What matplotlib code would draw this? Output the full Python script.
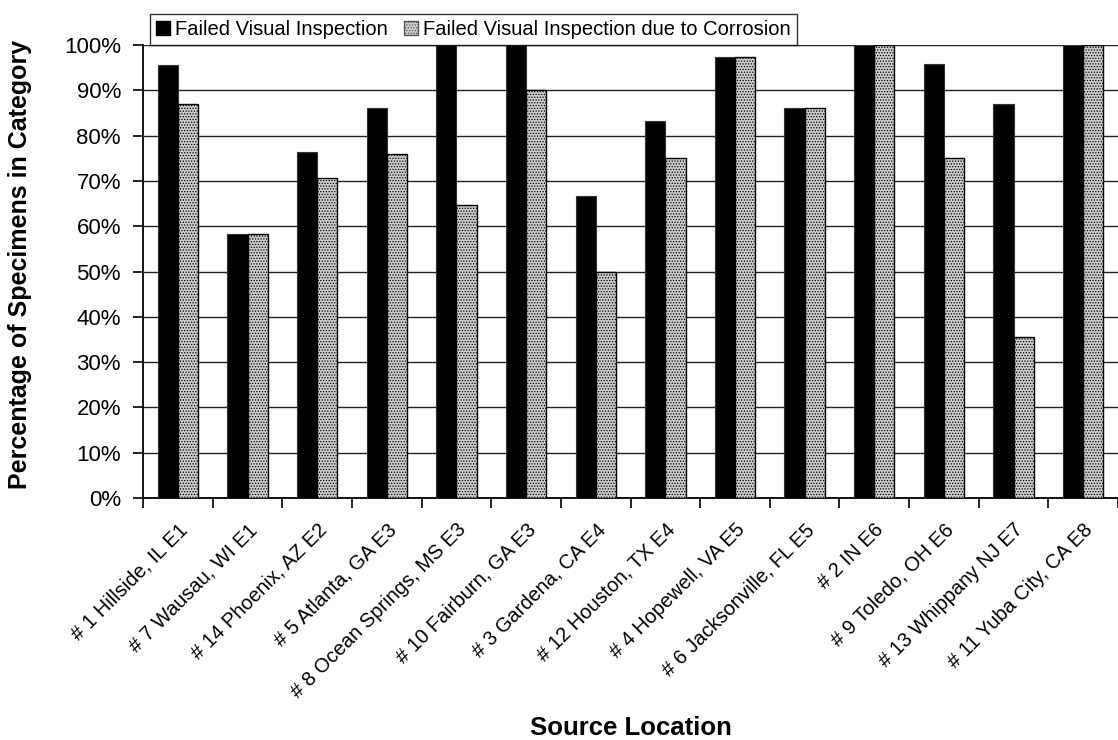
import numpy as np
import matplotlib.pyplot as plt
from matplotlib.patches import Patch

locations = [
    "# 1 Hillside, IL E1", "# 7 Wausau, WI E1", "# 14 Phoenix, AZ E2",
    "# 5 Atlanta, GA E3", "# 8 Ocean Springs, MS E3", "# 10 Fairburn, GA E3",
    "# 3 Gardena, CA E4", "# 12 Houston, TX E4", "# 4 Hopewell, VA E5",
    "# 6 Jacksonville, FL E5", "# 2 IN E6", "# 9 Toledo, OH E6",
    "# 13 Whippany NJ E7", "# 11 Yuba City, CA E8",
]
failed_visual = [95.7, 58.3, 76.5, 86.2, 100, 100, 66.7, 83.3, 97.4, 86.1, 100, 95.8, 87.1, 100]
failed_corrosion = [87.0, 58.3, 70.6, 75.9, 64.7, 90.0, 50.0, 75.0, 97.4, 86.1, 100, 75.0, 35.5, 100]

plt.rcParams["font.family"] = ["Liberation Sans", "DejaVu Sans"]
plt.rcParams["hatch.color"] = "#b0b0b0"
plt.rcParams["hatch.linewidth"] = 0.6

fig = plt.figure(figsize=(11.18, 7.4), dpi=100)
ax = fig.add_axes([0.128, 0.327, 0.872, 0.612])

n = len(locations)
x = np.arange(n)
w = 0.29
GRAY = "#cccccc"

ax.bar(x - w / 2, failed_visual, w, color="black", edgecolor="#333333",
       linewidth=0.8, zorder=3, label="Failed Visual Inspection")
ax.bar(x + w / 2, failed_corrosion, w, color=GRAY, edgecolor="black",
       linewidth=1.0, zorder=3, hatch="......",
       label="Failed Visual Inspection due to Corrosion")

ax.set_xlim(-0.5, n - 0.5)
ax.set_ylim(0, 100)
ax.set_yticks(range(0, 101, 10))
ax.set_yticklabels([f"{v}%" for v in range(0, 101, 10)], fontsize=16)
ax.tick_params(axis="y", length=7, width=1.2, direction="out", pad=9)

# ticks at category boundaries, labels at centres
ax.set_xticks(np.arange(n + 1) - 0.5)
ax.set_xticklabels([])
ax.tick_params(axis="x", which="major", length=7, width=1.2, direction="out")
ax.set_xticks(x, minor=True)
ax.set_xticklabels(locations, minor=True, rotation=45, ha="right",
                   rotation_mode="anchor", fontsize=14.5)
ax.tick_params(axis="x", which="minor", length=0, pad=16)

ax.grid(axis="y", color="#222222", linewidth=1.0, zorder=0)
ax.spines["top"].set_visible(False)
ax.spines["right"].set_visible(False)
ax.spines["left"].set_linewidth(1.3)
ax.spines["bottom"].set_linewidth(1.3)
ax.axhline(100, color="#888888", linewidth=1.5, zorder=1)

ax.set_ylabel("Percentage of Specimens in Category", fontsize=18,
              fontweight="bold")
ax.yaxis.set_label_coords(-0.114, 0.515)
ax.set_xlabel("Source Location", fontsize=18.5, fontweight="bold")
ax.xaxis.set_label_coords(0.5, -0.482)

handles = [Patch(facecolor="black", edgecolor="black"),
           Patch(facecolor=GRAY, edgecolor="#555555", hatch="......")]
leg = ax.legend(handles, ["Failed Visual Inspection",
                          "Failed Visual Inspection due to Corrosion"],
                loc="lower left", bbox_to_anchor=(0.007, 1.0), ncol=2,
                fontsize=14.5, frameon=True, fancybox=False, edgecolor="black",
                handlelength=0.7, handleheight=0.7, handletextpad=0.25,
                columnspacing=0.8, borderpad=0.3, borderaxespad=0.0)
leg.get_frame().set_linewidth(1.0)

fig.savefig("out.png", dpi=100)
